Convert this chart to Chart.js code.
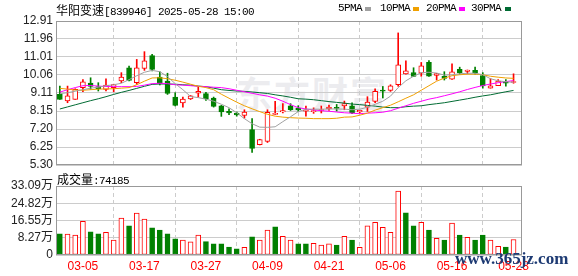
<!DOCTYPE html>
<html>
<head>
<meta charset="utf-8">
<script src="https://cdn.jsdelivr.net/npm/chart.js@4/dist/chart.umd.min.js"></script>
<style>
  body { margin: 0; background: #fff; }
  #wrap { position: relative; width: 578px; height: 276px; overflow: hidden; }
  canvas { position: absolute; left: 0; }
  .txt { position: absolute; white-space: nowrap; color: #000; line-height: 14px; }
  .cjk { font: 12px "Noto Sans CJK SC", sans-serif; }
  .mono { font: 11px "Liberation Mono", monospace; letter-spacing: -0.6px; }
  .sw { position: absolute; top: 7px; width: 6px; height: 4px; }
  #logo { position: absolute; left: 236px; top: 66px; font: bold 36px "Noto Sans CJK SC", sans-serif; color: #ececef; letter-spacing: 2px; }
  #site { position: absolute; left: 455px; top: 249px; font: bold 17px "Liberation Serif", serif; color: #1d3a73; }
</style>
</head>
<body>
<div id="wrap">
  <div id="logo">东方财富</div>
  <canvas id="priceChart" width="578" height="176" style="top:0"></canvas>
  <canvas id="volChart" width="578" height="106" style="top:170px"></canvas>

  <div class="txt" style="left:56px; top:1px"><span class="cjk">华阳变速</span><span class="mono">[839946] 2025-05-28 15:00</span></div>

  <div class="txt mono" style="left:338px; top:2px">5PMA</div>
  <div class="sw" style="left:365px; background:#a0a0a0"></div>
  <div class="txt mono" style="left:380px; top:2px">10PMA</div>
  <div class="sw" style="left:413px; background:#f0a000"></div>
  <div class="txt mono" style="left:426px; top:2px">20PMA</div>
  <div class="sw" style="left:459px; background:#ff00ff"></div>
  <div class="txt mono" style="left:471px; top:2px">30PMA</div>
  <div class="sw" style="left:505px; background:#006b33"></div>

  <div class="txt" style="left:57px; top:170px"><span class="cjk">成交量</span><span class="mono">:74185</span></div>
  <div id="site">www.365jz.com</div>
</div>

<script>
const dates = [
  "02-28", "03-03", "03-04", "03-05", "03-06", "03-07", "03-10", "03-11", "03-12", "03-13",
  "03-14", "03-17", "03-18", "03-19", "03-20", "03-21", "03-24", "03-25", "03-26", "03-27",
  "03-28", "03-31", "04-01", "04-02", "04-03", "04-07", "04-08", "04-09", "04-10", "04-11",
  "04-14", "04-15", "04-16", "04-17", "04-18", "04-21", "04-22", "04-23", "04-24", "04-25",
  "04-28", "04-29", "04-30", "05-06", "05-07", "05-08", "05-09", "05-12", "05-13", "05-14",
  "05-15", "05-16", "05-19", "05-20", "05-21", "05-22", "05-23", "05-26", "05-27", "05-28"
];

const openP = [
  9.03, 8.68, 8.77, 9.39, 9.63, 9.45, 9.30, 9.39, 9.74, 10.44,
  9.65, 10.40, 11.08, 9.95, 9.74, 8.89, 8.58, 8.79, 9.10, 9.07,
  8.84, 8.43, 8.13, 8.05, 7.92, 7.17, 6.37, 6.55, 7.97, 8.10,
  8.43, 8.31, 8.14, 8.12, 8.18, 8.26, 8.35, 8.42, 8.43, 8.10,
  8.35, 8.66, 9.23, 9.24, 9.54, 10.11, 10.19, 10.15, 10.72, 10.04,
  9.98, 9.83, 10.35, 10.25, 10.30, 10.03, 9.36, 9.49, 9.70, 9.66
];
const highP = [
  9.47, 9.47, 9.33, 9.82, 9.91, 9.65, 9.86, 9.57, 10.18, 10.53,
  10.88, 11.29, 11.15, 10.23, 10.15, 9.12, 8.89, 8.97, 9.42, 9.14,
  8.89, 8.45, 8.27, 8.10, 8.22, 7.75, 6.66, 8.22, 8.66, 8.54,
  8.54, 8.43, 8.41, 8.32, 8.42, 8.47, 8.50, 8.68, 8.58, 8.20,
  8.91, 9.32, 9.45, 9.54, 12.28, 10.81, 10.44, 10.72, 10.82, 10.14,
  10.23, 10.65, 10.47, 10.32, 10.47, 10.18, 9.86, 9.81, 9.82, 10.12
];
const lowP = [
  8.77, 8.59, 8.77, 9.17, 9.30, 9.21, 9.21, 9.17, 9.65, 9.74,
  9.56, 10.30, 10.27, 9.53, 9.03, 8.42, 8.36, 8.76, 8.89, 8.71,
  8.36, 7.87, 7.96, 7.88, 7.78, 5.97, 6.36, 6.49, 7.96, 8.05,
  8.18, 8.13, 7.88, 8.03, 8.05, 8.19, 8.15, 8.22, 8.01, 8.05,
  8.13, 8.59, 8.84, 9.19, 9.46, 10.10, 9.97, 9.99, 9.98, 9.79,
  9.79, 9.82, 10.10, 10.12, 10.10, 9.36, 9.36, 9.49, 9.47, 9.62
];
const closeP = [
  8.77, 8.95, 9.30, 9.69, 9.45, 9.33, 9.53, 9.55, 9.95, 9.77,
  10.44, 10.80, 10.35, 9.60, 9.08, 8.45, 8.79, 8.96, 9.19, 8.79,
  8.40, 8.10, 8.05, 7.94, 8.10, 6.17, 6.64, 8.08, 8.03, 8.17,
  8.22, 8.21, 8.15, 8.16, 8.22, 8.36, 8.29, 8.54, 8.05, 8.19,
  8.63, 9.19, 9.20, 9.49, 10.60, 10.28, 9.98, 10.54, 9.99, 10.13,
  9.88, 10.23, 10.17, 10.31, 10.16, 9.48, 9.49, 9.73, 9.63, 9.71
];

// volume in 万
const volume = [
  10.1, 10.0, 9.5, 16.2, 11.1, 10.1, 10.9, 7.2, 17.7, 14.0,
  20.1, 17.2, 13.0, 12.0, 10.1, 7.7, 7.1, 6.3, 9.5, 6.4,
  5.3, 5.3, 3.85, 2.9, 3.7, 8.7, 7.2, 12.0, 13.5, 9.0,
  7.2, 5.3, 5.3, 5.6, 4.7, 5.3, 4.7, 9.0, 7.2, 3.7,
  14.0, 15.7, 13.3, 10.9, 30.7, 20.2, 14.0, 15.7, 12.0, 8.0,
  7.2, 15.3, 9.6, 8.5, 7.2, 9.6, 7.1, 4.2, 3.85, 7.42
];

const ma5 = [
  9.07, 9.12, 9.20, 9.28, 9.36, 9.41, 9.49, 9.54, 9.62, 9.81,
  10.02, 10.20, 10.30, 10.23, 9.97, 9.60, 9.28, 8.92, 8.86, 8.78,
  8.67, 8.51, 8.33, 8.06, 7.75, 7.48, 7.30, 7.29, 7.32, 7.59,
  7.85, 8.12, 8.25, 8.25, 8.25, 8.26, 8.26, 8.25, 8.22, 8.25,
  8.35, 8.51, 8.67, 8.94, 9.39, 9.75, 9.99, 10.18, 10.20, 10.16,
  10.05, 10.07, 10.12, 10.15, 10.15, 10.07, 9.86, 9.75, 9.70, 9.67
];
const ma10 = [
  9.35, 9.31, 9.26, 9.25, 9.28, 9.31, 9.32, 9.33, 9.36, 9.39,
  9.54, 9.73, 9.90, 9.91, 9.86, 9.78, 9.68, 9.57, 9.46, 9.39,
  9.28, 9.04, 8.83, 8.62, 8.43, 8.27, 8.12, 7.98, 7.88, 7.83,
  7.80, 7.78, 7.77, 7.75, 7.75, 7.75, 7.77, 7.83, 7.84, 7.93,
  8.04, 8.20, 8.33, 8.46, 8.64, 8.83, 9.01, 9.25, 9.49, 9.73,
  9.89, 10.02, 10.07, 10.10, 10.10, 10.07, 9.99, 9.94, 9.90, 9.88
];
const ma20 = [
  9.15, 9.28, 9.39, 9.49, 9.50, 9.47, 9.45, 9.44, 9.44, 9.44,
  9.45, 9.52, 9.60, 9.62, 9.60, 9.54, 9.52, 9.49, 9.46, 9.44,
  9.41, 9.39, 9.33, 9.25, 9.17, 9.09, 9.01, 8.94, 8.83, 8.67,
  8.49, 8.33, 8.26, 8.21, 8.17, 8.14, 8.10, 8.06, 8.04, 8.01,
  8.04, 8.06, 8.09, 8.17, 8.30, 8.43, 8.56, 8.67, 8.78, 8.86,
  8.96, 9.06, 9.17, 9.29, 9.40, 9.50, 9.58, 9.65, 9.71, 9.76
];
const ma30 = [
  8.26, 8.37, 8.48, 8.59, 8.70, 8.80, 8.91, 9.03, 9.14, 9.24,
  9.35, 9.46, 9.56, 9.58, 9.58, 9.57, 9.54, 9.52, 9.47, 9.44,
  9.36, 9.28, 9.24, 9.21, 9.19, 9.16, 9.12, 9.08, 9.01, 8.95,
  8.88, 8.80, 8.78, 8.75, 8.70, 8.65, 8.61, 8.57, 8.52, 8.49,
  8.45, 8.41, 8.36, 8.33, 8.33, 8.38, 8.41, 8.43, 8.49, 8.54,
  8.59, 8.66, 8.73, 8.80, 8.88, 8.95, 9.01, 9.09, 9.17, 9.24
];

const priceTicks = [5.30, 6.25, 7.20, 8.15, 9.11, 10.06, 11.01, 11.96, 12.91];
const volumeTicks = [0, 8.27, 16.55, 24.82, 33.09];
const dateTicks = ["03-05", "03-17", "03-27", "04-09", "04-21", "05-06", "05-16", "05-28"];

const RED = "#ff0000";
const GREEN = "#008000";
const dateIdx = dateTicks.map(d => dates.indexOf(d));

const candleUp = i => closeP[i] >= openP[i];
const volUp = i => (i === 0 ? candleUp(0) : closeP[i] >= closeP[i - 1]);

// gray box round the plot area
const framePlugin = {
  id: "frame",
  afterDraw(chart) {
    const { ctx, chartArea: a } = chart;
    ctx.save();
    ctx.strokeStyle = "#999";
    ctx.lineWidth = 1;
    ctx.strokeRect(Math.round(a.left) + 0.5, Math.round(a.top) + 0.5,
      Math.round(a.right - a.left) - 1, Math.round(a.bottom - a.top) - 1);
    ctx.restore();
  }
};

function xScale(showLabels) {
  return {
    type: "linear",
    offset: false,
    min: -0.5,
    max: 60.1,
    afterBuildTicks: s => { s.ticks = dateIdx.map(v => ({ value: v })); },
    afterFit: s => { s.height = showLabels ? 21 : 0; },
    ticks: {
      display: showLabels,
      autoSkip: false,
      maxRotation: 0,
      padding: 4,
      color: RED,
      font: { size: 12, family: "Liberation Sans" },
      callback: v => dates[v]
    },
    grid: { color: "#ccc", drawTicks: false },
    border: { display: false, dash: [4, 3] }
  };
}

function yTicks(fmt, family) {
  return {
    autoSkip: false,
    padding: 3,
    color: "#222",
    font: { size: 12, family: family },
    callback: fmt
  };
}

function maLine(label, values, color) {
  return {
    type: "line",
    label: label,
    data: values.map((v, i) => ({ x: i, y: v })),
    borderColor: color,
    borderWidth: 1,
    pointRadius: 0,
    order: 0
  };
}

new Chart(document.getElementById("priceChart"), {
  type: "bar",
  data: {
    datasets: [
      maLine("5PMA", ma5, "#a0a0a0"),
      maLine("10PMA", ma10, "#f0a000"),
      maLine("20PMA", ma20, "#ff00ff"),
      maLine("30PMA", ma30, "#006b33"),
      {
        label: "body",
        data: openP.map((o, i) => ({ x: i, y: [o, closeP[i]] })),
        backgroundColor: c => (candleUp(c.dataIndex) ? "#fff" : GREEN),
        borderColor: c => (candleUp(c.dataIndex) ? RED : GREEN),
        borderWidth: 1,
        borderSkipped: false,
        barThickness: 5,
        minBarLength: 1,
        grouped: false,
        order: 1
      },
      {
        label: "wick",
        data: lowP.map((l, i) => ({ x: i, y: [l, highP[i]] })),
        backgroundColor: c => (candleUp(c.dataIndex) ? RED : GREEN),
        borderWidth: 0,
        barThickness: 1,
        grouped: false,
        order: 2
      }
    ]
  },
  options: {
    responsive: false,
    animation: false,
    layout: { padding: { top: 21, right: 56, bottom: 11, left: 0 } },
    plugins: { legend: { display: false }, tooltip: { enabled: false } },
    scales: {
      x: xScale(false),
      y: {
        min: 5.30,
        max: 12.91,
        afterBuildTicks: s => { s.ticks = priceTicks.map(v => ({ value: v })); },
        afterFit: s => { s.width = 56; },
        ticks: yTicks(v => v.toFixed(2), "Liberation Sans"),
        grid: { color: "#ccc", drawTicks: false },
        border: { display: false }
      }
    }
  },
  plugins: [framePlugin]
});

new Chart(document.getElementById("volChart"), {
  type: "bar",
  data: {
    datasets: [{
      label: "成交量",
      data: volume.map((v, i) => ({ x: i, y: v })),
      backgroundColor: c => (volUp(c.dataIndex) ? "#fff" : GREEN),
      borderColor: c => (volUp(c.dataIndex) ? RED : GREEN),
      borderWidth: 1,
      borderSkipped: false,
      barThickness: 5
    }]
  },
  options: {
    responsive: false,
    animation: false,
    layout: { padding: { top: 16, right: 56, bottom: 0, left: 0 } },
    plugins: { legend: { display: false }, tooltip: { enabled: false } },
    scales: {
      x: xScale(true),
      y: {
        min: 0,
        max: 33.09,
        afterBuildTicks: s => { s.ticks = volumeTicks.map(v => ({ value: v })); },
        afterFit: s => { s.width = 56; },
        ticks: yTicks(v => (v === 0 ? "0" : v.toFixed(2) + "万"), "Liberation Sans, Noto Sans CJK SC"),
        grid: { color: "#ccc", drawTicks: false },
        border: { display: false }
      }
    }
  },
  plugins: [framePlugin]
});
</script>
</body>
</html>
